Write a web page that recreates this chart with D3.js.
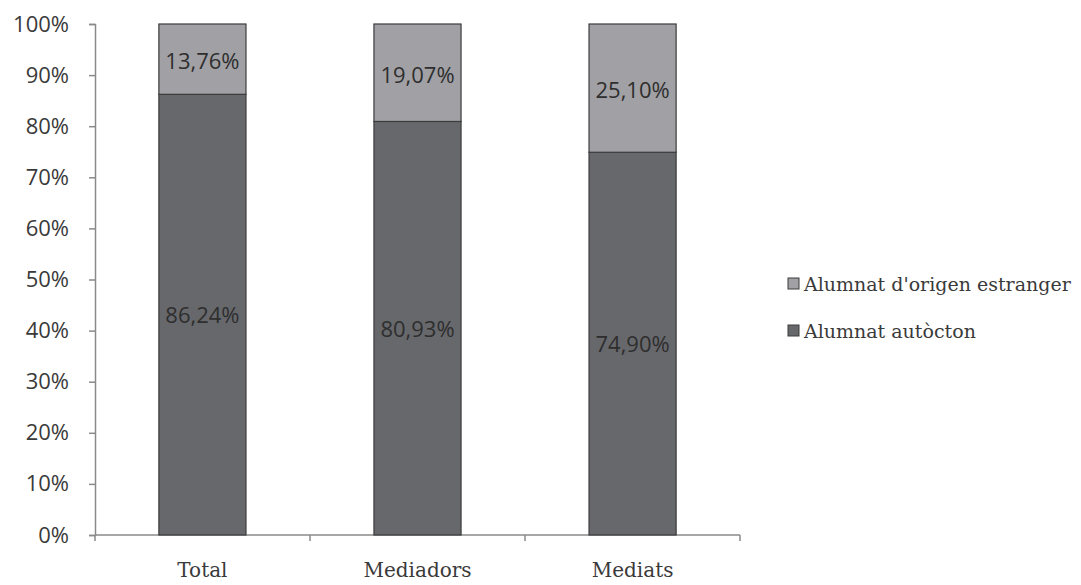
<!DOCTYPE html>
<html><head><meta charset="utf-8">
<script src="https://cdn.jsdelivr.net/npm/d3@7"></script>
<style>body{margin:0;background:#fff}</style>
</head><body>
<svg id="c" width="1081" height="585"></svg>
<script>
const categories = ["Total", "Mediadors", "Mediats"];
const autocton = [86.24, 80.93, 74.90];
const estranger = [13.76, 19.07, 25.10];
const autoctonLabels = ["86,24%", "80,93%", "74,90%"];
const estrangerLabels = ["13,76%", "19,07%", "25,10%"];
const yTicks = [0,10,20,30,40,50,60,70,80,90,100];
const legendLabels = ["Alumnat d'origen estranger", "Alumnat autòcton"];

const svg = d3.select("#c");
const x0 = 95, x1 = 740, yTop = 24, yBot = 535;
const x = d3.scaleBand().domain(categories).range([x0, x1]).paddingInner(0.595).paddingOuter(0.297);
const y = d3.scaleLinear().domain([0,100]).range([yBot, yTop]);
const dark = "#67686c", light = "#a1a1a5", stroke = "#3c3c3c", txt = "#3a3a3a";
const sans = "'Open Sans', 'DejaVu Sans', sans-serif";
const serif = "'DejaVu Serif', serif";

// axes
const ya = svg.append("g").attr("transform", `translate(${x0},0)`)
  .call(d3.axisLeft(y).tickValues(yTicks).tickSize(6).tickPadding(20).tickFormat(d => d + "%"));
ya.select(".domain").attr("stroke", "#8a8a8a").attr("stroke-width", 1.5);
ya.selectAll(".tick line").attr("stroke", "#8a8a8a").attr("stroke-width", 1.5);
ya.selectAll(".tick text").attr("font-family", sans).attr("font-size", 22).attr("fill", txt);

const xa = svg.append("g").attr("transform", `translate(0,${yBot})`);
xa.append("line").attr("x1", x0).attr("x2", x1).attr("stroke", "#8a8a8a").attr("stroke-width", 1.5);
const seps = d3.range(categories.length + 1).map(i => x0 + i * (x1 - x0) / categories.length);
xa.selectAll(".sep").data(seps).join("line").attr("x1", d => d).attr("x2", d => d)
  .attr("y1", 0).attr("y2", 6).attr("stroke", "#8a8a8a").attr("stroke-width", 1.5);
xa.selectAll(".lab").data(categories).join("text")
  .attr("x", d => x(d) + x.bandwidth()/2).attr("y", 42)
  .attr("text-anchor", "middle").attr("font-family", serif).attr("font-size", 20).attr("fill", txt)
  .text(d => d);

// bars
const g = svg.append("g");
categories.forEach((c, i) => {
  g.append("rect").attr("x", x(c)).attr("width", x.bandwidth())
    .attr("y", y(autocton[i])).attr("height", y(0) - y(autocton[i]))
    .attr("fill", dark).attr("stroke", stroke).attr("stroke-width", 1.2);
  g.append("rect").attr("x", x(c)).attr("width", x.bandwidth())
    .attr("y", y(100)).attr("height", y(autocton[i]) - y(100))
    .attr("fill", light).attr("stroke", stroke).attr("stroke-width", 1.2);
  g.append("text").attr("x", x(c) + x.bandwidth()/2).attr("y", (y(0) + y(autocton[i]))/2)
    .attr("dy", "0.4em").attr("text-anchor", "middle").attr("font-family", sans)
    .attr("font-size", 22).attr("fill", "#2e2e2e").text(autoctonLabels[i]);
  g.append("text").attr("x", x(c) + x.bandwidth()/2).attr("y", (y(100) + y(autocton[i]))/2)
    .attr("dy", "0.45em").attr("text-anchor", "middle").attr("font-family", sans)
    .attr("font-size", 22).attr("fill", "#2e2e2e").text(estrangerLabels[i]);
});

// legend
const lg = svg.append("g").attr("transform", "translate(788,0)");
const lcols = [light, dark];
const legendY = [284, 331];
legendLabels.forEach((l, i) => {
  const yy = legendY[i];
  lg.append("rect").attr("x", 0).attr("y", yy - 6).attr("width", 11).attr("height", 11)
    .attr("fill", lcols[i]).attr("stroke", stroke).attr("stroke-width", 1);
  lg.append("text").attr("x", 16).attr("y", yy).attr("dy", "0.35em")
    .attr("font-family", serif).attr("font-size", 19).attr("fill", txt).text(l);
});
</script>
</body></html>
